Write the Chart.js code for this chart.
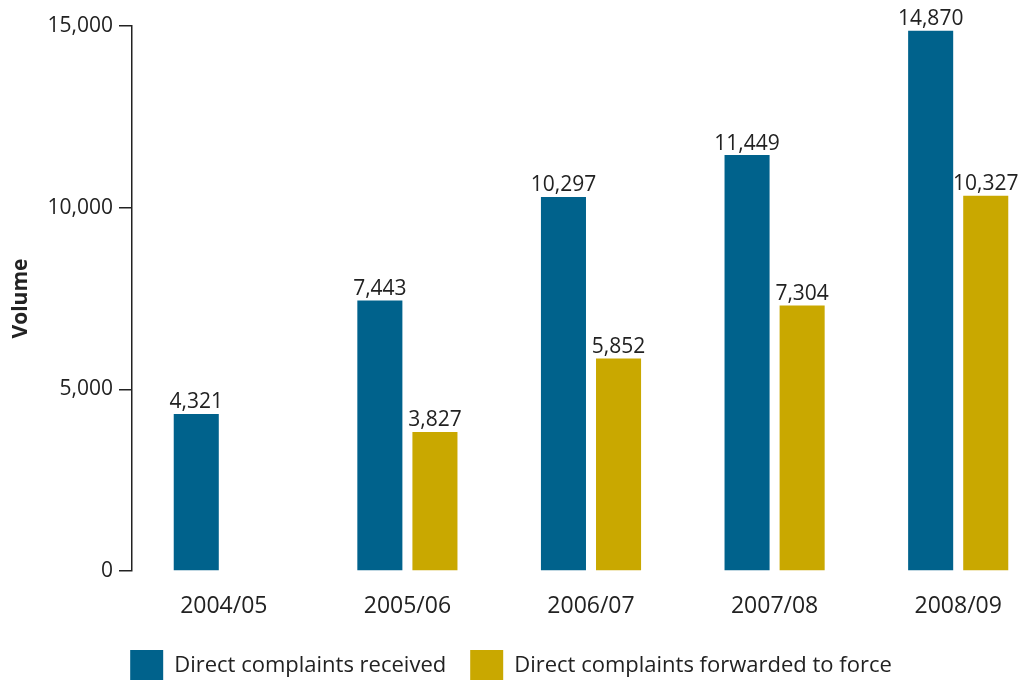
<!DOCTYPE html>
<html>
<head>
<meta charset="utf-8">
<script src="https://cdn.jsdelivr.net/npm/chart.js@4"></script>
<style>
    html, body { margin: 0; padding: 0; background: #fff; overflow: hidden; }
    #wrap { width: 1024px; height: 680px; position: relative; overflow: hidden; }
</style>
</head>
<body>
<div id="wrap"><canvas id="chart" width="1050" height="680"></canvas></div>
<script>
    var years     = ['2004/05', '2005/06', '2006/07', '2007/08', '2008/09'];
    var received  = [4321, 7443, 10297, 11449, 14870];
    var forwarded = [null, 3827, 5852, 7304, 10327];
    var yTicks    = [0, 5000, 10000, 15000];

    var FONT = "'Open Sans', sans-serif";
    var INK  = '#222222';

    function fmt(n) {
        return n.toString().replace(/\B(?=(\d{3})+(?!\d))/g, ',');
    }

    // Zahlen ueber den Balken
    var valueLabels = {
        id: 'valueLabels',
        afterDatasetsDraw: function (chart) {
            var ctx = chart.ctx;
            ctx.save();
            ctx.font = '21px ' + FONT;
            ctx.fillStyle = INK;
            ctx.textAlign = 'center';
            ctx.textBaseline = 'bottom';
            chart.data.datasets.forEach(function (ds, i) {
                chart.getDatasetMeta(i).data.forEach(function (bar, j) {
                    if (ds.data[j] == null) return;
                    ctx.fillText(fmt(ds.data[j]), bar.x, bar.y - 1);
                });
            });
            ctx.restore();
        }
    };

    // Legende etwas verschieben (Canvas ist breiter als das Fenster)
    var legendShift = {
        id: 'legendShift',
        afterLayout: function (chart) {
            var lg = chart.legend;
            lg.left -= 14; lg.right -= 14;
            lg.top += 11;  lg.bottom += 11;
        }
    };

    new Chart(document.getElementById('chart'), {
        type: 'bar',
        data: {
            labels: years,
            datasets: [
                { label: 'Direct complaints received', data: received, backgroundColor: '#00628c',
                  categoryPercentage: 0.6, barPercentage: 0.818 },
                { label: 'Direct complaints forwarded to force', data: forwarded, backgroundColor: '#c9a800',
                  categoryPercentage: 0.6, barPercentage: 0.818 }
            ]
        },
        options: {
            responsive: false,
            animation: false,
            layout: { padding: { top: 26, right: 0, bottom: 0, left: 0 } },
            plugins: {
                legend: {
                    position: 'bottom',
                    labels: {
                        boxWidth: 33, boxHeight: 31, padding: 24,
                        color: INK, font: { size: 22, family: FONT }
                    }
                },
                tooltip: { enabled: false }
            },
            scales: {
                x: {
                    grid: { display: false },
                    border: { display: false },
                    ticks: { color: INK, padding: 14, font: { size: 23, family: FONT } },
                    afterFit: function (s) { s.height = 44; }
                },
                y: {
                    min: 0, max: 15000,
                    afterBuildTicks: function (s) { s.ticks = yTicks.map(function (v) { return { value: v }; }); },
                    grid: { drawOnChartArea: false, drawTicks: true, tickLength: 13, color: INK, lineWidth: 1.5 },
                    border: { display: true, color: INK, width: 1.5 },
                    ticks: { color: INK, padding: 6, font: { size: 21, family: FONT },
                             callback: function (v) { return fmt(v); } },
                    title: { display: true, text: 'Volume', color: INK, padding: { top: 8, bottom: 0 },
                             font: { size: 21, weight: 'bold', family: FONT } },
                    afterFit: function (s) { s.width = 132; }
                }
            }
        },
        plugins: [valueLabels, legendShift]
    });
</script>
</body>
</html>
